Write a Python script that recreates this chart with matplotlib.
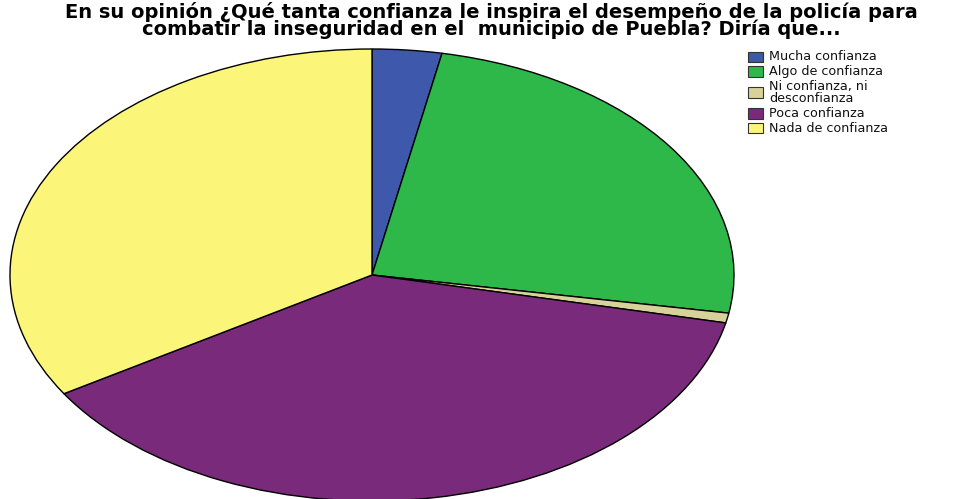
import numpy as np
import matplotlib.pyplot as plt
from matplotlib.patches import Rectangle

plt.rcParams['font.family'] = ['DejaVu Sans']

# Respuestas (porcentaje)
categorias = ['Mucha confianza', 'Algo de confianza', 'Ni confianza, ni\ndesconfianza',
              'Poca confianza', 'Nada de confianza']
porcentajes = [3.1, 24.6, 0.7, 37.8, 33.8]
colores = ['#3E58AC', '#2FB84A', '#D6D29A', '#7A2A7A', '#FBF57A']

titulo = ('En su opinión ¿Qué tanta confianza le inspira el desempeño de la policía para\n'
          'combatir la inseguridad en el  municipio de Puebla? Diría que...')

W, H = 977, 499
fig = plt.figure(figsize=(W / 100, H / 100), dpi=100)
# pastel estirado en horizontal (elipse)
ax = fig.add_axes([10 / W, -2 / H, 724 / W, 452 / H])
ax.pie(porcentajes, colors=colores, startangle=90, counterclock=False,
       wedgeprops=dict(edgecolor='black', linewidth=1.0))
ax.set_aspect('auto')
ax.set_xlim(-1, 1)
ax.set_ylim(-1, 1)
ax.axis('off')

fig.text(491 / W, 1 - 2 / H, titulo, ha='center', va='top', fontsize=14,
         fontweight='bold', linespacing=0.84)

# leyenda a mano: cuadro de color + etiqueta, en píxeles de la figura
filas_y = [57, 71.5, 92.5, 113.5, 128]
for c, etiqueta, y in zip(colores, categorias, filas_y):
    fig.patches.append(Rectangle((748 / W, 1 - (y + 5) / H), 15 / W, 10 / H,
                                 facecolor=c, edgecolor='#333333', linewidth=0.8,
                                 transform=fig.transFigure, figure=fig))
    fig.text(769 / W, 1 - y / H, etiqueta, ha='left', va='center', fontsize=9.2,
             linespacing=0.85, color='#111111')

plt.savefig('out.png', dpi=100)
